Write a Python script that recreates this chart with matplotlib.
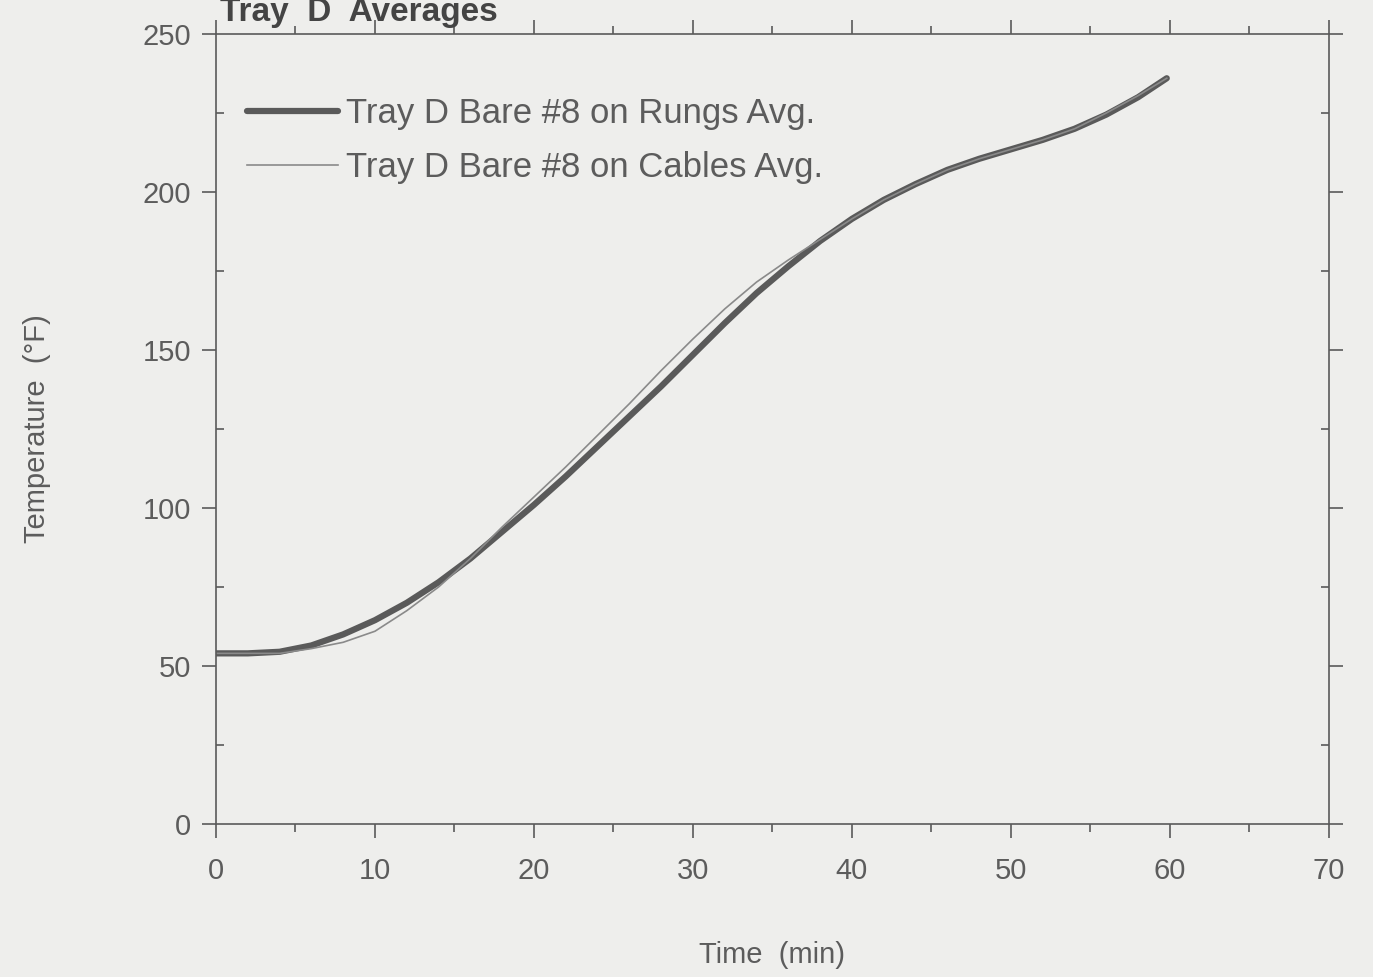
import matplotlib
matplotlib.use('Agg')
import matplotlib.pyplot as plt
from matplotlib.ticker import MultipleLocator

# time (min) and temperature (F)
time_min = [0, 2, 4, 6, 8, 10, 12, 14, 16, 18, 20, 22, 24, 26, 28, 30,
            32, 34, 36, 38, 40, 42, 44, 46, 48, 50, 52, 54, 56, 58, 59.8]

rungs_avg = [54, 54, 54.5, 56.5, 60, 64.5, 70, 76.5, 84, 92.5, 101, 110,
             119.5, 129, 138.5, 148.5, 158.5, 168, 176.5, 184.5, 191.5,
             197.5, 202.5, 207, 210.5, 213.5, 216.5, 220, 224.5, 230, 236]

cables_avg = [54, 54, 54, 55.5, 57.5, 61, 67.5, 75, 84, 94, 103.5, 113,
              123, 133, 143.5, 153.5, 163, 171.5, 178.5, 185, 191.5,
              197.5, 202.5, 207, 210.5, 213.5, 216.5, 220, 225, 230.5, 236]

labels = ['Tray D Bare #8 on Rungs Avg.', 'Tray D Bare #8 on Cables Avg.']

bg = '#eeeeec'
ink = '#5a5a5a'
txt = '#5c5c5c'

plt.rcParams['font.family'] = ['Liberation Sans', 'DejaVu Sans']

fig = plt.figure(figsize=(13.73, 9.77), dpi=100, facecolor=bg)
ax = fig.add_axes([0.1573, 0.1566, 0.8106, 0.8086], facecolor=bg)

ax.plot(time_min, rungs_avg, color=ink, lw=4.5, label=labels[0],
        solid_capstyle='round', solid_joinstyle='round')
ax.plot(time_min, cables_avg, color='#8a8a8a', lw=1.2, label=labels[1])

ax.set_xlim(0, 70)
ax.set_ylim(0, 250)
ax.xaxis.set_major_locator(MultipleLocator(10))
ax.xaxis.set_minor_locator(MultipleLocator(5))
ax.yaxis.set_major_locator(MultipleLocator(50))
ax.yaxis.set_minor_locator(MultipleLocator(25))

for s in ax.spines.values():
    s.set_color(ink)
    s.set_linewidth(1.2)

ax.tick_params(which='both', direction='out', colors=ink, width=1.2,
               top=True, right=True, labelcolor=txt, labelsize=21)
ax.tick_params(which='major', length=10)
ax.tick_params(which='minor', length=6)
ax.tick_params(axis='y', which='minor', direction='in')
ax.tick_params(axis='x', pad=14)
ax.tick_params(axis='y', pad=8)

ax.set_xlabel('Time  (min)', fontsize=21, color=txt, labelpad=40)
ax.set_ylabel('Temperature  (°F)', fontsize=21, color=txt, labelpad=66)

leg = ax.legend(loc='upper left', bbox_to_anchor=(0.0, 0.96), frameon=False,
                fontsize=25, handlelength=2.6, handletextpad=0.25,
                labelspacing=0.6, labelcolor=txt)

fig.text(0.16, 0.978, 'Tray  D  Averages', fontsize=24, fontweight='bold',
         color='#444444', ha='left', va='baseline')

plt.savefig('out.png', dpi=100, facecolor=bg)
